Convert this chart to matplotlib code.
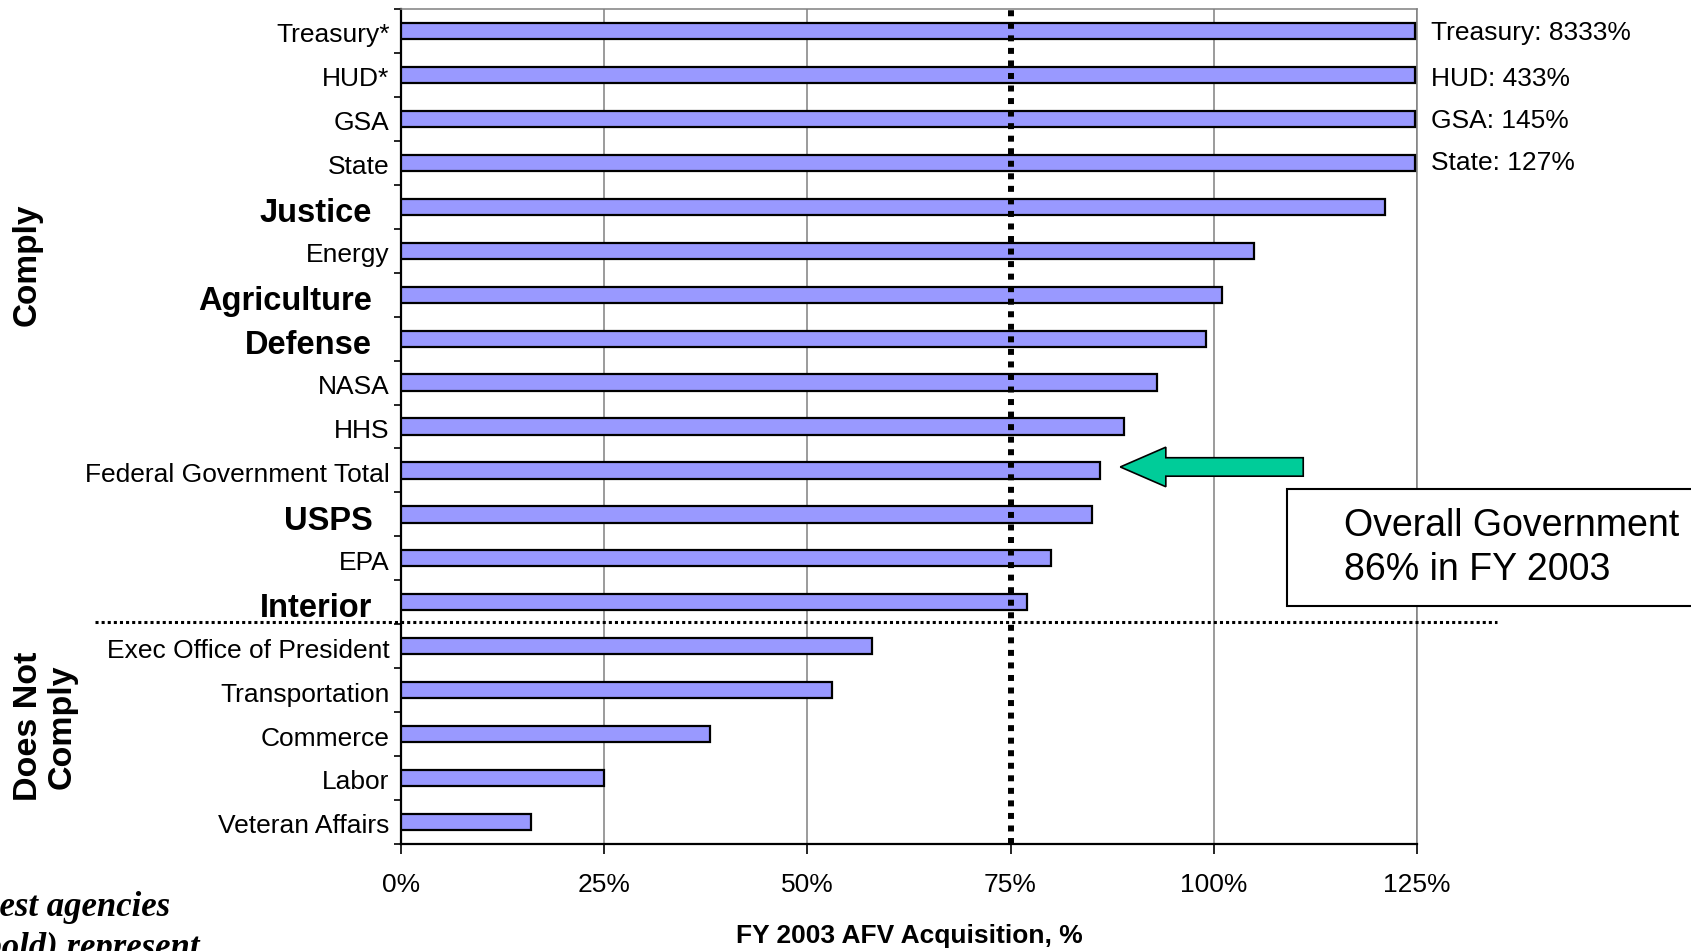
import numpy as np
import matplotlib.pyplot as plt
import matplotlib.patches as mpatches
from matplotlib.transforms import blended_transform_factory

plt.rcParams['font.family'] = ['Liberation Sans', 'DejaVu Sans']

# agencies, top to bottom
agencies = ['Treasury*', 'HUD*', 'GSA', 'State', 'Justice', 'Energy',
            'Agriculture', 'Defense', 'NASA', 'HHS', 'Federal Government Total',
            'USPS', 'EPA', 'Interior', 'Exec Office of President',
            'Transportation', 'Commerce', 'Labor', 'Veteran Affairs']
acquisition = [8333, 433, 145, 127, 121, 105, 101, 99, 93, 89, 86,
               85, 80, 77, 58, 53, 38, 25, 16]
largest = ['Justice', 'Agriculture', 'Defense', 'USPS', 'Interior']
offscale = ['Treasury: 8333%', 'HUD: 433%', 'GSA: 145%', 'State: 127%']
n_comply = 14
target = 75
overall = 86
xmax = 125
xticks = [0, 25, 50, 75, 100, 125]

fig = plt.figure(figsize=(16.91, 9.51), dpi=100)
ax = fig.add_axes([0.237, 0.1125, 0.601, 0.878])

y = np.arange(len(agencies))
ax.barh(y, np.minimum(acquisition, xmax - 0.3), height=0.37, color='#9999FF',
        edgecolor='black', linewidth=1.6, zorder=3)

ax.set_xlim(0, xmax)
ax.set_ylim(len(agencies) - 0.5, -0.5)

# grid and frame
for xv in xticks[1:]:
    if xv != target:
        ax.axvline(xv, color='#808080', linewidth=1.1, zorder=1)
for s in ['top', 'right']:
    ax.spines[s].set_color('#808080')
    ax.spines[s].set_linewidth(1.1)
for s in ['left', 'bottom']:
    ax.spines[s].set_linewidth(1.6)

ax.set_xticks(xticks)
ax.set_xticklabels([f'{v}%' for v in xticks], fontsize=19)
ax.tick_params(axis='x', direction='out', length=7, width=1.2, pad=14)
ax.set_yticks([])
ax.set_yticks(np.arange(len(agencies) + 1) - 0.5, minor=True)
ax.tick_params(axis='y', which='minor', direction='out', length=5, width=1.2)

# agency labels
tr = blended_transform_factory(ax.transAxes, ax.transData)
for i, name in enumerate(agencies):
    if name in largest:
        ax.text(-0.028, i + 0.15, name, transform=tr, ha='right', va='center',
                fontsize=23.5, fontweight='bold')
    else:
        ax.text(-0.011, i + 0.1, name, transform=tr, ha='right', va='center',
                fontsize=19)

# off-scale values
for i, txt in enumerate(offscale):
    ax.text(1.014, i + 0.05 + 0.04 * (i == 1) - 0.05 * (i == 3), txt,
            transform=tr, ha='left', va='center', fontsize=19)

# 75% requirement line
ax.axvline(target, color='black', linewidth=4.3, linestyle=(0, (1, 1.1)),
           zorder=4)

# comply / does not comply divider
ax.plot([-0.301, 1.079], [n_comply - 0.55, n_comply - 0.55], transform=tr,
        color='black', linewidth=2.2, linestyle=(0, (1, 1)), clip_on=False,
        zorder=5)

# arrow pointing to the overall total
i_total = agencies.index('Federal Government Total')
arrow = mpatches.FancyArrow(111, i_total - 0.08, -22.5, 0, width=0.42,
                            head_width=0.9, head_length=5.6,
                            length_includes_head=True, facecolor='#00CC99',
                            edgecolor='black', linewidth=1.2, zorder=6,
                            clip_on=False)
ax.add_patch(arrow)

# callout box
box = mpatches.Rectangle((0.761, 0.3628), 0.3, 0.123, transform=fig.transFigure,
                         facecolor='white', edgecolor='black', linewidth=1.5)
fig.patches.append(box)
fig.text(0.7948, 0.4238, f'Overall Government\n{overall}% in FY 2003',
         ha='left', va='center', fontsize=27, linespacing=1.3)

ax.set_xlabel('FY 2003 AFV Acquisition, %', fontsize=19, fontweight='bold',
              labelpad=19)

fig.text(0.016, 0.722, 'Comply', rotation=90, ha='center', va='center',
         fontsize=24, fontweight='bold')
fig.text(0.027, 0.236, 'Does Not\nComply', rotation=90, ha='center',
         va='center', fontsize=24.5, fontweight='bold', linespacing=1.12)

# note cut off at the lower left
fig.text(0.1005, 0.037, 'Largest agencies', ha='right', va='baseline',
         fontsize=25, fontweight='bold', style='italic',
         family=['Liberation Serif', 'DejaVu Serif'])
fig.text(0.118, -0.006, '(in bold) represent', ha='right', va='baseline',
         fontsize=25, fontweight='bold', style='italic',
         family=['Liberation Serif', 'DejaVu Serif'])

fig.savefig('out.png', dpi=100)
